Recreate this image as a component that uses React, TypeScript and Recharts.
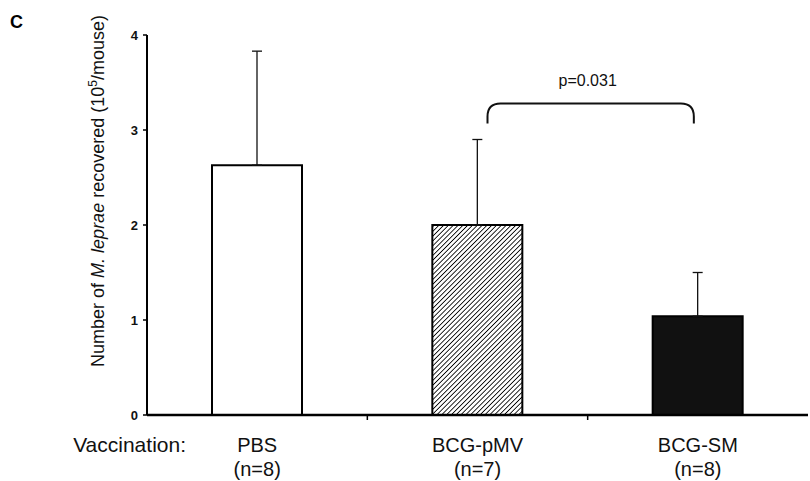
import { BarChart, Bar, XAxis, YAxis, ErrorBar, Cell, ReferenceLine } from "recharts";

const groups = ["PBS", "BCG-pMV", "BCG-SM"];
const groupSizes = ["(n=8)", "(n=7)", "(n=8)"];
const means = [2.63, 2.0, 1.04];
const sdUpper = [1.2, 0.9, 0.46];
const yTicks = [0, 1, 2, 3, 4];
const pValue = "p=0.031";
const bracketFrom = "BCG-pMV";
const bracketTo = "BCG-SM";
const bracketY = 3.28;

const barFills = ["#ffffff", "url(#hatch)", "#111111"];
const FONT = "Arial, 'Liberation Sans', Helvetica, sans-serif";

const data = groups.map((name, i) => ({
  name,
  mean: means[i],
  err: [0, sdUpper[i]],
}));

// two-line category label + small tick mark on the left band edge
function GroupTick(props: any) {
  const { x, y, payload, index } = props;
  const half = payload?.offset ?? 0;
  return (
    <g transform={`translate(${x},${y})`}>
      {index > 0 && (
        <line x1={-half} x2={-half} y1={0} y2={5} stroke="#000" strokeWidth={1.5} />
      )}
      <text textAnchor="middle" fontFamily={FONT} fontSize={20} fill="#111">
        <tspan x={0} y={37}>{payload.value}</tspan>
        <tspan x={0} y={61}>{groupSizes[index]}</tspan>
      </text>
    </g>
  );
}

function YLabel(props: any) {
  const { viewBox } = props;
  const cx = viewBox.x + 104;
  const cy = viewBox.y + viewBox.height / 2 - 34;
  return (
    <text
      x={cx}
      y={cy}
      transform={`rotate(-90 ${cx} ${cy})`}
      textAnchor="middle"
      fontFamily={FONT}
      fontSize={18}
      fill="#111"
    >
      Number of <tspan fontStyle="italic">M. leprae</tspan> recovered (10
      <tspan fontSize={12} dy={-7}>5</tspan>
      <tspan dy={7}>/mouse)</tspan>
    </text>
  );
}

function Bracket(props: any) {
  const { x1, x2, y1 } = props;
  const l = x1 + 10;
  const r = x2 - 4;
  const rad = 13;
  const drop = 20;
  const d = `M${l},${y1 + drop} L${l},${y1 + rad} Q${l},${y1} ${l + rad},${y1} L${r - rad},${y1} Q${r},${y1} ${r},${y1 + rad} L${r},${y1 + drop}`;
  return <path d={d} fill="none" stroke="#111" strokeWidth={2} />;
}

export default function App() {
  return (
    <div style={{ position: "absolute", left: 0, top: 0, width: 810, height: 481, background: "#fff" }}>
      <svg width={0} height={0} style={{ position: "absolute" }}>
        <defs>
          <pattern id="hatch" patternUnits="userSpaceOnUse" width={3.4} height={3.4} patternTransform="rotate(45)">
            <rect width={3.4} height={3.4} fill="#fff" />
            <line x1={0} y1={0} x2={0} y2={3.4} stroke="#000" strokeWidth={1.7} />
          </pattern>
        </defs>
      </svg>

      <div style={{ position: "absolute", left: 10, top: 13, fontFamily: FONT, fontWeight: 700, fontSize: 18, lineHeight: "18px" }}>
        C
      </div>
      <div style={{ position: "absolute", right: 810 - 186, top: 435, fontFamily: FONT, fontSize: 21, lineHeight: "20px", color: "#111" }}>
        Vaccination:
      </div>

      <BarChart width={810} height={481} data={data} margin={{ top: 35, right: 2, bottom: 0, left: 0 }}>
        <XAxis
          dataKey="name"
          height={66}
          interval={0}
          axisLine={{ stroke: "#000", strokeWidth: 2.5 }}
          tickLine={false}
          tickSize={0}
          tickMargin={0}
          tick={<GroupTick />}
        />
        <YAxis
          width={147}
          domain={[0, 4]}
          ticks={yTicks}
          axisLine={{ stroke: "#000", strokeWidth: 2 }}
          tickLine={{ stroke: "#000", strokeWidth: 1.5 }}
          tickSize={4}
          tickMargin={5}
          tick={{ fill: "#111", fontSize: 13, fontWeight: 700, fontFamily: FONT }}
          label={<YLabel />}
        />
        <Bar dataKey="mean" barSize={90} stroke="#000" strokeWidth={2} isAnimationActive={false}>
          {data.map((d, i) => (
            <Cell key={d.name} fill={barFills[i]} />
          ))}
          <ErrorBar dataKey="err" direction="y" width={5} stroke="#111" strokeWidth={1.3} isAnimationActive={false} />
        </Bar>
        <ReferenceLine
          segment={[
            { x: bracketFrom, y: bracketY },
            { x: bracketTo, y: bracketY },
          ]}
          shape={<Bracket />}
          label={{ value: pValue, position: "top", offset: 17, fontSize: 16, fill: "#111", fontFamily: FONT }}
        />
      </BarChart>
    </div>
  );
}
